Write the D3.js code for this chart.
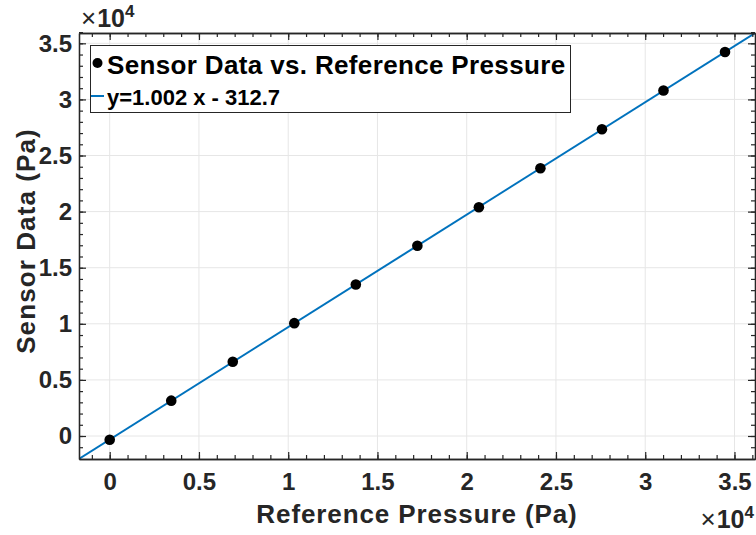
<!DOCTYPE html>
<html>
<head>
<meta charset="utf-8">
<script src="https://cdn.jsdelivr.net/npm/d3@7"></script>
<style>
  body { margin: 0; background: #fff; }
  svg { display: block; font-family: "Liberation Sans", Arial, Helvetica, sans-serif; }
  .tick text { font-size: 24px; font-weight: bold; fill: #262626; font-family: "Liberation Sans", Arial, sans-serif; }
  .label { font-size: 26px; font-weight: bold; fill: #262626; }
</style>
</head>
<body>
<div id="chart"></div>
<script>
// reference pressure (Pa) and sensor readings (Pa)
var refPressure = [0, 3447, 6894, 10341, 13788, 17235, 20682, 24129, 27576, 31023, 34470];
var sensorData = [-330, 3150, 6620, 10060, 13500, 16960, 20390, 23870, 27340, 30800, 34230];
var fitSlope = 1.002, fitIntercept = -312.7;
var majorTicks = [0, 5000, 10000, 15000, 20000, 25000, 30000, 35000];
var minorTicks = d3.range(-1000, 36001, 1000);
var legendLabels = ['Sensor Data vs. Reference Pressure', 'y=1.002 x - 312.7'];

var width = 756, height = 535;
var plotLeft = 79, plotRight = 755, plotTop = 33, plotBottom = 459;

var svg = d3.select('#chart').append('svg')
    .attr('width', width)
    .attr('height', height);

var x = d3.scaleLinear().domain([-1720, 36150]).range([plotLeft, plotRight]);
var y = d3.scaleLinear().domain([-2050, 35920]).range([plotBottom, plotTop]);

svg.append('clipPath').attr('id', 'clip')
  .append('rect').attr('x', plotLeft).attr('y', plotTop)
  .attr('width', plotRight - plotLeft).attr('height', plotBottom - plotTop);

// grid
var grid = svg.append('g').attr('stroke', '#e6e6e6').attr('stroke-width', 1);
grid.selectAll('.gx').data(majorTicks).join('line')
    .attr('x1', d => x(d)).attr('x2', d => x(d))
    .attr('y1', plotTop).attr('y2', plotBottom);
grid.selectAll('.gy').data(majorTicks).join('line')
    .attr('y1', d => y(d)).attr('y2', d => y(d))
    .attr('x1', plotLeft).attr('x2', plotRight);

// fit line
var plot = svg.append('g').attr('clip-path', 'url(#clip)');
plot.append('line')
    .attr('x1', x(x.domain()[0])).attr('y1', y(fitSlope * x.domain()[0] + fitIntercept))
    .attr('x2', x(x.domain()[1])).attr('y2', y(fitSlope * x.domain()[1] + fitIntercept))
    .attr('stroke', '#0072bd').attr('stroke-width', 2);

plot.selectAll('circle').data(refPressure).join('circle')
    .attr('cx', d => x(d))
    .attr('cy', (d, i) => y(sensorData[i]))
    .attr('r', 5.3)
    .attr('fill', '#000');

// axes, ticks pointing inward on all four sides
function styleAxis(g) {
    g.select('.domain').attr('stroke', '#262626').attr('stroke-width', 1.3);
    g.selectAll('.tick line').attr('stroke', '#262626').attr('stroke-width', 1.2);
}
var fmt = d => d === 0 ? '0' : d3.format('~g')(d / 1e4);

svg.append('g').attr('transform', 'translate(0,' + plotBottom + ')')
    .call(d3.axisBottom(x).tickValues(minorTicks).tickSize(-4).tickSizeOuter(0).tickFormat(''))
    .call(styleAxis);
svg.append('g').attr('transform', 'translate(0,' + plotTop + ')')
    .call(d3.axisTop(x).tickValues(minorTicks).tickSize(-4).tickSizeOuter(0).tickFormat(''))
    .call(styleAxis);
svg.append('g').attr('transform', 'translate(' + plotLeft + ',0)')
    .call(d3.axisLeft(y).tickValues(minorTicks).tickSize(-4).tickSizeOuter(0).tickFormat(''))
    .call(styleAxis);
svg.append('g').attr('transform', 'translate(' + plotRight + ',0)')
    .call(d3.axisRight(y).tickValues(minorTicks).tickSize(-4).tickSizeOuter(0).tickFormat(''))
    .call(styleAxis);

svg.append('g').attr('transform', 'translate(0,' + plotBottom + ')')
    .call(d3.axisBottom(x).tickValues(majorTicks).tickSize(-7).tickSizeOuter(0).tickPadding(14).tickFormat(fmt))
    .call(styleAxis);
svg.append('g').attr('transform', 'translate(0,' + plotTop + ')')
    .call(d3.axisTop(x).tickValues(majorTicks).tickSize(-7).tickSizeOuter(0).tickFormat(''))
    .call(styleAxis);
svg.append('g').attr('transform', 'translate(' + plotLeft + ',0)')
    .call(d3.axisLeft(y).tickValues(majorTicks).tickSize(-7).tickSizeOuter(0).tickPadding(7).tickFormat(fmt))
    .call(styleAxis);
svg.append('g').attr('transform', 'translate(' + plotRight + ',0)')
    .call(d3.axisRight(y).tickValues(majorTicks).tickSize(-7).tickSizeOuter(0).tickFormat(''))
    .call(styleAxis);

// exponent labels
function exponent(xp, yb, anchor) {
    var t = svg.append('text').attr('x', xp).attr('y', yb).attr('fill', '#262626')
        .attr('text-anchor', anchor).style('font-size', '24px');
    t.append('tspan').style('font-size', '26px').text('\u00d7');
    t.append('tspan').style('font-size', '25px').attr('font-weight', 'bold').attr('dx', 1).text('10');
    t.append('tspan').style('font-size', '17px').attr('font-weight', 'bold').attr('dy', -10).text('4');
}
exponent(81, 27, 'start');
exponent(754, 528, 'end');

// axis labels
svg.append('text').attr('class', 'label')
    .attr('x', (plotLeft + plotRight) / 2).attr('y', 523)
    .attr('text-anchor', 'middle').attr('letter-spacing', 0.9)
    .text('Reference Pressure (Pa)');
svg.append('text').attr('class', 'label')
    .attr('transform', 'translate(35,241) rotate(-90)')
    .attr('text-anchor', 'middle').attr('letter-spacing', 1.1)
    .text('Sensor Data (Pa)');

// legend
var legend = svg.append('g');
legend.append('rect')
    .attr('x', 90.5).attr('y', 45.5).attr('width', 480).attr('height', 67)
    .attr('fill', '#fff').attr('stroke', '#262626').attr('stroke-width', 1);
legend.append('circle').attr('cx', 97.5).attr('cy', 63).attr('r', 5).attr('fill', '#000');
legend.append('line').attr('x1', 91).attr('x2', 104).attr('y1', 96).attr('y2', 96)
    .attr('stroke', '#0072bd').attr('stroke-width', 2);
legend.append('text').attr('x', 107).attr('y', 73.5)
    .style('font-size', '26px').attr('font-weight', 'bold').attr('letter-spacing', 0.35)
    .text(legendLabels[0]);
legend.append('text').attr('x', 107).attr('y', 104.5)
    .style('font-size', '22px').attr('font-weight', 'bold')
    .text(legendLabels[1]);
</script>
</body>
</html>
